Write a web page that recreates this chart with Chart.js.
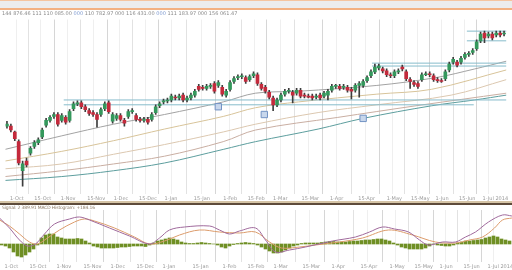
<!DOCTYPE html>
<html>
<head>
<meta charset="utf-8">
<script src="https://cdn.jsdelivr.net/npm/chart.js@4.4.1/dist/chart.umd.min.js"></script>
<style>
  html, body { margin: 0; padding: 0; background: #fff; }
  body { width: 512px; height: 270px; position: relative; overflow: hidden; font-family: 'DejaVu Sans', sans-serif; }
  .band { position: absolute; left: 0; width: 512px; }
  #topLine { top: 0; height: 1px; background: #f5c49e; }
  #topBand { top: 1px; height: 7px; background: #ececec; }
  #topLine2 { top: 8px; height: 2px; background: #f3b080; }
  #sep1 { top: 201px; height: 2px; background: #d5c4a6; }
  #sep2 { top: 203px; height: 2px; background: #5e4b3a; }
  .info { position: absolute; left: 2px; font-size: 5px; line-height: 6px; white-space: nowrap; }
  #info { top: 10px; color: #8a8a8a; }
  #info b { font-weight: normal; color: #7f9bd0; }
  #macdInfo { top: 205px; color: #8c7a66; font-size: 4.5px; letter-spacing: -0.15px; }
  canvas { position: absolute; left: 0; }
  #mainChart { top: 14px; }
  #macdChart { top: 205px; }
</style>
</head>
<body>
<canvas id="mainChart" width="512" height="189"></canvas>
<canvas id="macdChart" width="512" height="65"></canvas>
<div class="band" id="topLine"></div>
<div class="band" id="topBand"></div>
<div class="band" id="topLine2"></div>
<div class="band" id="sep1"></div>
<div class="band" id="sep2"></div>
<div class="info" id="info">144 876.46 111 110 085.00 <b>000</b> 110 782.97 000 116 431.00 <b>000</b> 111 183.97 000 156 061.47</div>
<div class="info" id="macdInfo">Signal: 2 389.91 MACD Histogram: +184.16</div>
<script>
// candles, one per trading slot
const opens = [76, 76, 70, 60, 30, 40, 48, 55, 59, 65,
  77, 82, 86, 88, 82, 85, 82, 94, 99, 100,
  96, 92, 90, 88, 88, 94, 100, 81, 84, 87,
  82, 86, 91, 87, 83, 82, 83, 83, 90, 97,
  101, 102, 103, 106, 105, 108, 103, 105, 108, 117,
  116, 115, 117, 120, 118, 116, 108, 114, 122, 126,
  127, 126, 124, 128, 129, 119, 116, 111, 105, 98,
  103, 109, 112, 111, 110, 113, 108, 107, 107, 106,
  108, 107, 108, 113, 117, 117, 116, 116, 114, 113,
  118, 118, 123, 128, 132, 136, 135, 133, 129, 128,
  132, 137, 132, 124, 121, 120, 124, 129, 130, 128,
  124, 123, 125, 134, 142, 142, 142, 147, 150, 152,
  156, 164, 172, 169, 171, 170, 172, 171];
const highs = [81, 78, 71, 62, 40, 43, 55, 61, 64, 74,
  84, 87, 90, 90, 89, 87, 93, 101, 102, 102,
  98, 94, 92, 90, 95, 101, 102, 90, 89, 89,
  84, 93, 94, 89, 85, 85, 85, 90, 98, 101,
  104, 105, 109, 108, 109, 110, 107, 110, 114, 119,
  118, 119, 120, 122, 123, 118, 114, 123, 127, 129,
  130, 128, 129, 132, 131, 121, 118, 113, 107, 105,
  110, 114, 115, 113, 115, 115, 110, 109, 109, 109,
  110, 112, 114, 119, 119, 119, 119, 118, 116, 120,
  122, 124, 128, 134, 140, 140, 137, 135, 131, 134,
  135, 139, 134, 126, 123, 122, 131, 132, 132, 130,
  126, 125, 134, 142, 147, 144, 148, 152, 153, 156,
  165, 173, 174, 173, 173, 174, 174, 174];
const lows = [74, 70, 61, 36, 14, 34, 46, 53, 57, 63,
  75, 80, 84, 76, 80, 78, 80, 92, 97, 94,
  91, 87, 86, 75, 86, 92, 89, 79, 82, 81,
  76, 84, 89, 81, 80, 80, 78, 81, 88, 95,
  99, 100, 101, 103, 103, 101, 101, 103, 106, 112,
  113, 113, 115, 110, 116, 107, 106, 112, 120, 124,
  125, 120, 122, 126, 118, 113, 110, 104, 92, 96,
  101, 107, 110, 100, 108, 105, 105, 105, 103, 104,
  103, 105, 103, 111, 115, 113, 114, 111, 104, 111,
  106, 116, 121, 126, 130, 134, 131, 127, 126, 126,
  130, 133, 123, 115, 117, 115, 122, 128, 127, 122,
  121, 121, 123, 132, 140, 137, 140, 145, 148, 150,
  154, 162, 162, 167, 165, 168, 168, 169];
const closes = [78, 72, 63, 38, 37, 36, 53, 59, 62, 72,
  82, 85, 88, 78, 87, 80, 91, 99, 100, 96,
  93, 89, 88, 83, 93, 99, 91, 88, 87, 83,
  79, 91, 92, 83, 82, 83, 80, 88, 96, 99,
  102, 103, 107, 105, 107, 103, 105, 108, 112, 114,
  115, 117, 118, 112, 121, 109, 112, 121, 125, 127,
  128, 122, 127, 130, 120, 115, 112, 106, 98, 103,
  108, 112, 113, 108, 113, 107, 107, 106, 105, 107,
  105, 110, 112, 117, 118, 115, 117, 113, 112, 118,
  120, 122, 126, 132, 137, 138, 133, 129, 128, 132,
  133, 135, 125, 122, 119, 117, 129, 130, 129, 124,
  123, 122, 132, 140, 145, 139, 146, 150, 151, 154,
  163, 171, 167, 171, 167, 172, 170, 172];

// moving averages as [candle index, value]
const maGray = [[-0.5, 52], [14, 66], [27.25, 78], [40.25, 88], [55.25, 101], [63.5, 110], [74.5, 112], [94.5, 118], [109.5, 126], [119.5, 135], [127.6, 143]];
const maTan = [[-0.5, 40], [14, 50], [27.25, 61], [40.25, 73], [55.25, 86], [63.5, 95], [74.5, 101], [94.5, 109], [108.5, 114], [127.6, 134]];
const maSand = [[-0.5, 32], [14, 37], [27.25, 47], [40.25, 57], [55.25, 70], [63.5, 78], [79.5, 90], [94.5, 98], [113.5, 108], [127.6, 124]];
const maRose = [[-0.5, 24], [14, 30], [27.25, 37], [40.25, 45], [55.25, 60], [63.5, 72], [84.5, 85], [104.5, 97], [127.6, 110]];
const maTeal = [[-0.5, 20], [14, 24], [27.25, 30], [40.25, 38], [55.25, 52], [63.5, 60], [79.5, 73], [91, 84], [108.5, 97], [119.5, 103], [127.6, 108]];

// horizontal price levels
const levelValues = [103, 98, 141, 138, 174, 164];
const levelFrom = [14.5, 14.5, 93.25, 93.25, 117.5, 117.5];
const levelTo = [127.6, 119.25, 127.6, 127.6, 127.6, 127.6];

// alert markers
const markerIdx = [54, 65.75, 91];
const markerVal = [96, 88, 84];

// MACD panel
const histogram = [-1, -2, -4, -8, -12, -13, -11, -8, -5, -1,
  6, 9, 10, 10, 7, 6, 5, 5, 5, 5.5,
  5, 3, 1, -2, -3, -4, -4, -4, -4, -3.5,
  -3, -3, -2.5, -2, -2, -2, -2.5, -1, 1, 3,
  4, 5, 6, 5, 4, 2, 1, 0.5, 0.5, 1,
  1.5, 1, 0.5, 0, -1, -3, -4, -2, -0.5, 0.5,
  1, 1.5, 1, 0.5, -1, -3, -5, -7, -9, -9,
  -8, -6, -4, -2, -1, 0.5, 1, 1, 1, 1,
  1.5, 2, 2.5, 2.5, 2, 2, 2, 2.5, 3, 3,
  3.5, 4, 4, 4.5, 5, 5, 4, 3, 1, -1,
  -3, -4, -5, -5, -5, -5, -4, -2, 0, -1,
  -1.5, -2, -2, -1, 1, 2, 3, 3, 3.5, 4,
  4.5, 6, 7, 8, 7, 5, 4, 3];
const macdLine = [[-0.5, 26], [2, 16], [4.5, 4], [6.5, -2], [8.5, 0], [10.75, 10], [13.25, 20], [17, 25], [19.5, 27], [22, 24],
  [27, 16], [32, 8], [37, 0], [39.5, 6], [42, 14], [45.75, 17], [52, 18], [54.5, 14], [57, 10], [59.5, 13],
  [63.5, 16], [66, 4], [68.5, -8], [72, -6], [76, -3], [82.75, 3], [88.5, 7], [92, 12], [95.25, 17], [98.25, 15],
  [101.75, 12], [104.5, 4], [106.75, -1], [110.25, 2], [113.5, 2], [116, 7], [118.5, 12], [121.75, 22], [125.25, 29], [127.6, 28]];
const signalLine = [[-0.5, 24], [2, 18], [4.5, 10], [7, 2], [9, 0], [11.5, 6], [14.5, 14], [18.25, 22], [20.75, 25], [23.25, 23],
  [28.25, 16], [33.25, 7], [37, 0], [40.75, 3], [44.5, 9], [49.5, 14], [54.5, 12], [59.5, 11], [63.5, 12], [67, 2],
  [70, -4], [74.5, -3], [78.5, -1], [84.5, 2], [90.25, 6], [96.75, 14], [102.75, 9], [108.5, 2], [113.5, 1], [117, 4],
  [120.25, 7], [123.25, 16], [125.25, 24], [127.6, 26]];

// date axis
const tickIdx = [0.75, 7, 13.75, 20.5, 27.25, 33.75, 40.25, 47.75, 55.25, 61.5, 68, 75.25, 82.5, 89.75, 97, 103.25, 109.5, 115.5, 121.5];
const tickLabels = ['1-Oct', '15-Oct', '1-Nov', '15-Nov', '1-Dec', '15-Dec', '1-Jan', '15-Jan', '1-Feb', '15-Feb',
  '1-Mar', '15-Mar', '1-Apr', '15-Apr', '1-May', '15-May', '1-Jun', '15-Jun', '1-Jul 2014'];

const UP = '#34985c';
const DOWN = '#c42a3c';

function buildTicks() {
  const list = [];
  tickIdx.forEach((v, i) => {
    list.push({ value: v, text: tickLabels[i], strong: i % 2 === 0 });
    if (i + 1 < tickIdx.length) list.push({ value: (v + tickIdx[i + 1]) / 2, text: '' });
  });
  return list;
}

function timeAxis(height) {
  return {
    type: 'linear', min: -0.375, max: 127.625, offset: false,
    border: { display: false },
    grid: {
      drawTicks: false,
      color: ctx => {
        const t = ctx.tick || {};
        if (t.strong) return '#d6d6d6';
        return t.text ? '#e2e2e2' : '#efefef';
      }
    },
    ticks: {
      autoSkip: false, maxRotation: 0, minRotation: 0, align: 'start', padding: 2,
      color: '#9a9a9a', font: { family: 'DejaVu Sans', size: 5 },
      callback: (v, i, ticks) => ticks[i].text || ''
    },
    afterBuildTicks: scale => { scale.ticks = buildTicks(); },
    afterFit: scale => { scale.height = height; scale.paddingLeft = 0; scale.paddingRight = 0; }
  };
}

function line(points, color, order) {
  return {
    type: 'line', data: points.map(p => ({ x: p[0], y: p[1] })),
    borderColor: color, borderWidth: 1, pointRadius: 0, tension: 0.35, order
  };
}

const mainDatasets = [
  {
    type: 'bar', grouped: false, order: 2, barThickness: 3,
    data: opens.map((o, i) => ({ x: i, y: [o, closes[i]] })),
    backgroundColor: opens.map((o, i) => closes[i] >= o ? UP : DOWN)
  },
  {
    type: 'bar', grouped: false, order: 3, barThickness: 1,
    data: lows.map((l, i) => ({ x: i, y: [l, highs[i]] })),
    backgroundColor: '#3d3d3d'
  },
  line(maGray, '#a3a3a3', 6),
  line(maTan, '#d8c49a', 6),
  line(maSand, '#dcc8b0', 6),
  line(maRose, '#c9aea2', 6),
  line(maTeal, '#5d9e9e', 6)
];
levelValues.forEach((v, i) => {
  mainDatasets.push({
    type: 'line', data: [{ x: levelFrom[i], y: v }, { x: levelTo[i], y: v }],
    borderColor: '#86bccb', borderWidth: 1, pointRadius: 0, order: 4
  });
});
mainDatasets.push({
  type: 'line', showLine: false, order: 1,
  data: markerIdx.map((x, i) => ({ x, y: markerVal[i] })),
  pointStyle: 'rect', pointRadius: 4.5, backgroundColor: '#c8d7ec', borderColor: '#7393c4', borderWidth: 1
});

new Chart(document.getElementById('mainChart'), {
  type: 'bar',
  data: { datasets: mainDatasets },
  options: {
    responsive: false, animation: false, devicePixelRatio: 1,
    layout: { padding: 0 },
    plugins: { legend: { display: false }, tooltip: { enabled: false } },
    scales: {
      x: timeAxis(9),
      y: { min: 6, max: 186, display: false }
    }
  }
});

new Chart(document.getElementById('macdChart'), {
  type: 'bar',
  data: {
    datasets: [
      line(macdLine, '#a06a9c', 1),
      line(signalLine, '#dc9c6c', 1),
      {
        type: 'bar', order: 2, barThickness: 3,
        data: histogram.map((v, i) => ({ x: i, y: v })),
        backgroundColor: '#6f8f24'
      }
    ]
  },
  options: {
    responsive: false, animation: false, devicePixelRatio: 1,
    layout: { padding: { top: 5 } },
    plugins: { legend: { display: false }, tooltip: { enabled: false } },
    scales: {
      x: timeAxis(8),
      y: { min: -18, max: 34, display: false }
    }
  }
});
</script>
</body>
</html>
